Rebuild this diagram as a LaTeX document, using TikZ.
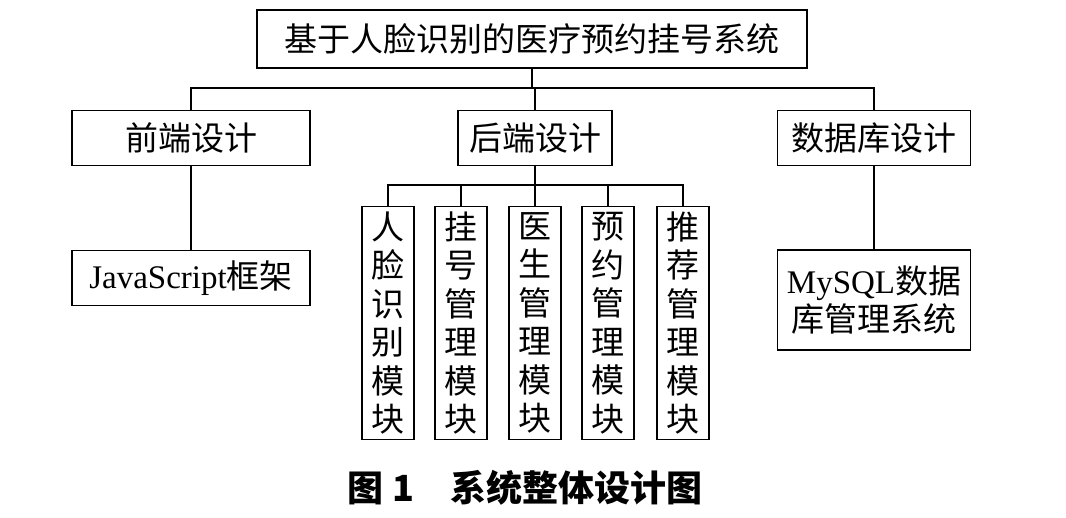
\documentclass[tikz,border=0pt]{standalone}
\usepackage{fontspec}
\setmainfont{Liberation Serif}
\newfontfamily\cjk{Noto Sans CJK SC}
\begin{document}
\begin{tikzpicture}[x=1pt,y=-1pt,
  bx/.style={draw,line width=1.6pt,inner sep=0pt,font=\fontsize{33}{38}\selectfont},
  ln/.style={line width=1.6pt}]
\useasboundingbox (0,0) rectangle (1066,517);
\node[bx,minimum width=550,minimum height=58] (top) at (532,39) {\cjk 基于人脸识别的医疗预约挂号系统};
\node[bx,minimum width=238,minimum height=55] (fe) at (191,138) {\cjk 前端设计};
\node[bx,minimum width=154,minimum height=55] (be) at (535,138) {\cjk 后端设计};
\node[bx,minimum width=193,minimum height=55] (db) at (874,138) {\cjk 数据库设计};
\node[bx,minimum width=238,minimum height=55] (js) at (191,278) {JavaScript{\cjk 框架}};
\node[bx,minimum width=193,minimum height=100,align=center] (my) at (874,300) {MySQL{\cjk 数据}\\{\cjk 库管理系统}};
\foreach \n/\x/\t in {m1/388/人\\脸\\识\\别\\模\\块, m2/461/挂\\号\\管\\理\\模\\块, m3/535/医\\生\\管\\理\\模\\块, m4/608/预\\约\\管\\理\\模\\块, m5/683/推\\荐\\管\\理\\模\\块}
  \node[bx,minimum width=52,minimum height=233,align=center,font=\fontsize{33}{38.5}\selectfont\cjk] (\n) at (\x,323) {\t};
\coordinate (h1) at (532,88);
\draw[ln] (top.south) -- (h1);
\draw[ln] (fe.north) |- (h1) -| (db.north);
\draw[ln] (be.north) -- (be.north |- h1);
\draw[ln] (fe.south) -- (js.north);
\draw[ln] (db.south) -- (my.north);
\coordinate (h2) at (535,185);
\draw[ln] (be.south) -- (h2);
\draw[ln] (m1.north) |- (h2) -| (m5.north);
\foreach \n in {m2,m3,m4} \draw[ln] (\n.north) -- (\n.north |- h2);
\node[font=\fontsize{36}{40}\selectfont\cjk\bfseries] (cap) at (525,488) {图 1\quad 系统整体设计图};
\end{tikzpicture}
\end{document}
